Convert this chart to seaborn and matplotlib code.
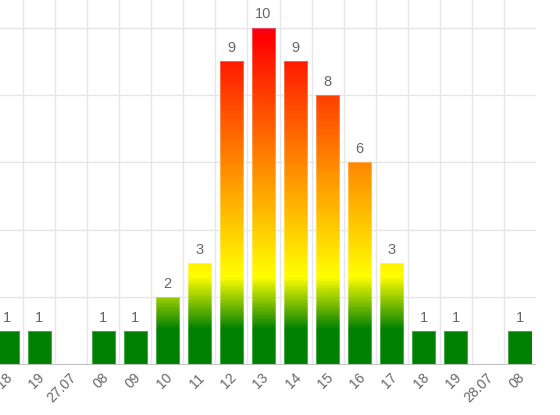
import numpy as np
import pandas as pd
import seaborn as sns
import matplotlib.pyplot as plt
from matplotlib.colors import LinearSegmentedColormap, Normalize
from matplotlib.ticker import FixedLocator
from matplotlib.transforms import ScaledTranslation

# hourly slots, date labels where the day changes
labels = ["18", "19", "27.07", "08", "09", "10", "11", "12", "13", "14",
          "15", "16", "17", "18", "19", "28.07", "08"]
counts = [1, 1, 0, 1, 1, 2, 3, 9, 10, 9, 8, 6, 3, 1, 1, 0, 1]

df = pd.DataFrame({"slot": range(len(labels)), "count": counts})

sns.set_style("white")
plt.rcParams["font.family"] = ["Liberation Sans", "DejaVu Sans"]

fig = plt.figure(figsize=(5.6, 4.15), dpi=100)
ax = fig.add_axes([0, 50.5 / 415, 536 / 560, 364.5 / 415])

sns.barplot(data=df, x="slot", y="count", width=0.72, ax=ax, color="white",
            errorbar=None, zorder=3)

# green -> yellow -> red, mapped on the absolute value
heat = LinearSegmentedColormap.from_list(
    "heat", [(0, "#008000"), (0.1, "#008000"), (0.257, "#ffff00"),
             (0.975, "#ff0000"), (1, "#ee0022")])
norm = Normalize(0, 10)
for bar in ax.patches:
    h = bar.get_height()
    bar.set_facecolor("none")
    bar.set_edgecolor((1, 1, 1, 0.35))
    bar.set_linewidth(0.6)
    if h <= 0:
        bar.set_visible(False)
        continue
    x0, w = bar.get_x(), bar.get_width()
    grad = np.linspace(0, h, 400).reshape(-1, 1)
    img = ax.imshow(grad, cmap=heat, norm=norm, extent=[x0, x0 + w, 0, h],
                    origin="lower", aspect="auto", interpolation="nearest", zorder=2)
    img.set_clip_path(bar)

for i, v in enumerate(counts):
    if v > 0:
        ax.annotate(str(v), (i, v), xytext=(0, 4.5), textcoords="offset points",
                    ha="center", va="bottom", fontsize=10.5, color="#666666")

ax.set_xlim(-0.22, 16.5)
ax.set_ylim(0, 10.82)
ax.set_xlabel("")
ax.set_ylabel("")

ax.set_yticks([0, 2, 4, 6, 8, 10])
ax.tick_params(axis="y", length=0, labelleft=False)
ax.yaxis.grid(True, color="#e6e6e6", lw=1)

ax.set_xticks(range(len(labels)))
ax.set_xticklabels(labels, rotation=45, ha="right", va="center",
                   rotation_mode="anchor", fontsize=10, color="#666666")
ax.tick_params(axis="x", which="major", length=0, pad=8)
ax.xaxis.set_minor_locator(FixedLocator(np.arange(0.5, 16, 1)))
ax.tick_params(axis="x", which="minor", length=10, color="#e6e6e6", width=1)
ax.xaxis.grid(True, which="minor", color="#e6e6e6", lw=1)
ax.xaxis.grid(False, which="major")
ax.set_axisbelow(True)
for lab in ax.get_xticklabels():
    lab.set_transform(lab.get_transform() + ScaledTranslation(0.03, 0, fig.dpi_scale_trans))

sns.despine(ax=ax, left=True, bottom=True)
ax.axhline(0, color="#c0c0c0", lw=1.5, zorder=4)

fig.savefig("out.png", dpi=100)
